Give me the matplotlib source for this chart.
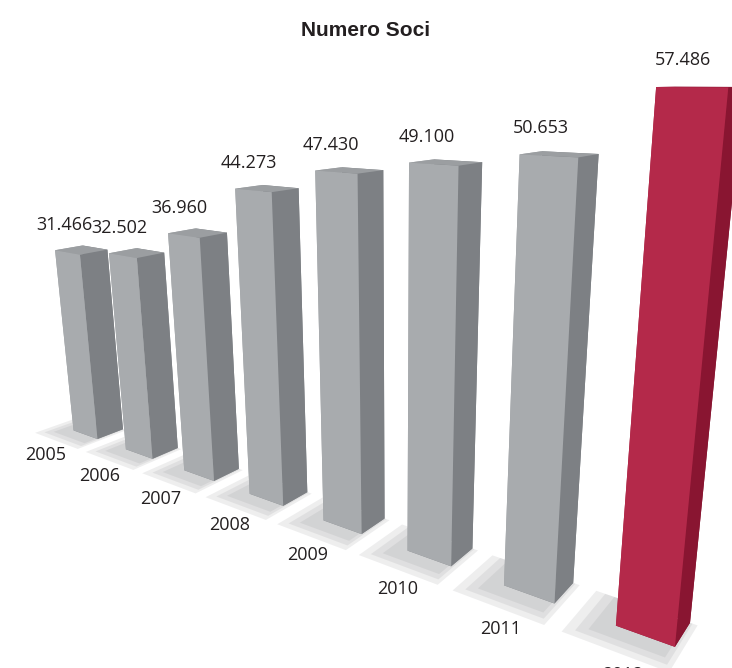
import numpy as np
import matplotlib.pyplot as plt
from mpl_toolkits.mplot3d import proj3d
from mpl_toolkits.mplot3d.art3d import Poly3DCollection

years = ['2005', '2006', '2007', '2008', '2009', '2010', '2011', '2012']
soci = [31466, 32502, 36960, 44273, 47430, 49100, 50653, 57486]
soci_labels = ['31.466', '32.502', '36.960', '44.273', '47.430', '49.100', '50.653', '57.486']

# colours per face: bottom, top, -y (front), +y, -x, +x (side)
grey_faces = ['#8a8d90', '#9b9ea1', '#a8abae', '#7f8286', '#a0a3a6', '#7d8084']
red_faces = ['#8c1834', '#a02040', '#b4294a', '#8c1834', '#a3213f', '#891531']

fig = plt.figure(figsize=(7.32, 6.68), dpi=100)
ax = fig.add_axes([0.029, 0.050, 1, 0.93], projection='3d')
ax.set_proj_type('persp', focal_length=0.26)
ax.view_init(elev=15, azim=-55)
ax.computed_zorder = False

n = len(years)
xpos = np.arange(n, dtype=float)
dx, dy = 0.47, 0.40

colors = []
for i in range(n):
    colors += red_faces if i == n - 1 else grey_faces

bars = ax.bar3d(xpos - dx / 2, np.full(n, -dy / 2), np.zeros(n), dx, dy, soci,
                color=colors, shade=False, zorder=3)
bars.set_clip_on(False)

# soft shadows under the bars (a few stacked translucent layers)
for k, grow in enumerate([0.22, 0.14, 0.06]):
    shadows = []
    for x in xpos:
        x0, x1 = x - dx / 2 - 0.1 - grow, x + dx / 2 - 0.05 + grow * 0.5
        y0, y1 = -dy / 2 - 0.12 - grow, dy / 2
        shadows.append([(x0, y0, 0), (x1, y0, 0), (x1, y1, 0), (x0, y1, 0)])
    coll = Poly3DCollection(shadows, facecolor='#8e8f92', edgecolor='none',
                            alpha=0.15, zorder=1 + k * 0.1)
    ax.add_collection3d(coll)
    coll.set_clip_on(False)

ax.set_xlim(-0.5, n + 1.5)
ax.set_ylim(-1, 1)
ax.set_zlim(0, 60000)
ax.set_box_aspect((10.66, 2, 4.6), zoom=1.94)
ax.set_xticks([])
ax.set_yticks([])
ax.set_zticks([])
ax.set_axis_off()

# labels: project the 3D anchor points and place plain 2D annotations
M = ax.get_proj()
for x, v, lab, yr in zip(xpos, soci, soci_labels, years):
    px, py, _ = proj3d.proj_transform(x - dx / 8, -dy / 2, v, M)
    ax.annotate(lab, (px, py), xytext=(0, 13), textcoords='offset points',
                ha='center', va='bottom', fontsize=13,
                family='Open Sans', color='#231f20', annotation_clip=False)
    px, py, _ = proj3d.proj_transform(x - dx / 2 + 0.35, -dy / 2 - 0.38, 0, M)
    ax.annotate(yr, (px, py), ha='right', va='top', fontsize=13,
                family='Open Sans', color='#231f20', annotation_clip=False)

fig.text(0.5, 0.955, 'Numero Soci', ha='center', va='center', fontsize=15,
         fontweight='bold', family='Liberation Sans', color='#231f20')

fig.savefig('out.png', dpi=100, facecolor='white')
